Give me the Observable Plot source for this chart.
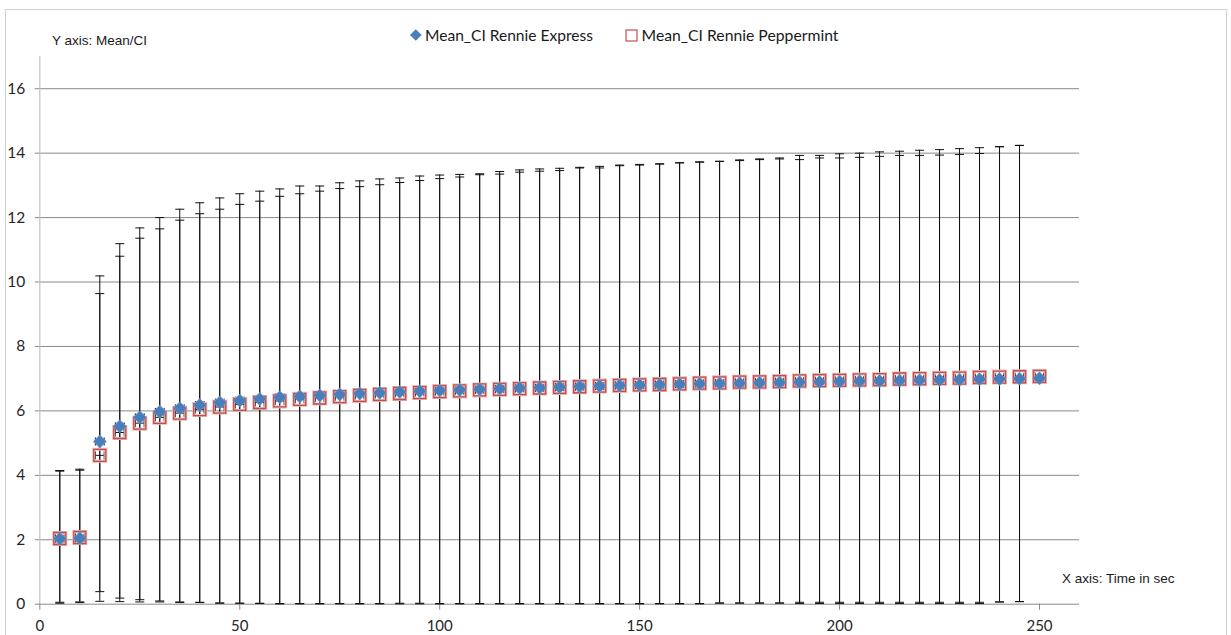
<!DOCTYPE html>
<html>
<head>
<meta charset="utf-8">
<script src="https://cdn.jsdelivr.net/npm/d3@7"></script>
<script src="https://cdn.jsdelivr.net/npm/@observablehq/plot@0.6"></script>
<style>
  html, body { margin: 0; padding: 0; background: #fff; }
  #wrap { position: relative; width: 1231px; height: 635px; overflow: hidden; }
  #wrap > svg { position: absolute; left: 0; top: 0; }
  #frame { position: absolute; left: 5px; top: 9px; width: 1222px; height: 640px; border: 1.5px solid #d0d0d0; box-sizing: border-box; }
</style>
</head>
<body>
<div id="wrap"><div id="frame"></div></div>
<script>
// ---- data ----
const timeSec = [5,10,15,20,25,30,35,40,45,50,55,60,65,70,75,80,85,90,95,100,
  105,110,115,120,125,130,135,140,145,150,155,160,165,170,175,180,185,190,195,200,
  205,210,215,220,225,230,235,240,245,250];

const expressMean = [2.03,2.05,5.05,5.52,5.80,5.97,6.08,6.18,6.26,6.32,
  6.37,6.42,6.45,6.48,6.51,6.54,6.56,6.59,6.61,6.63,
  6.65,6.67,6.69,6.71,6.72,6.74,6.76,6.77,6.79,6.80,
  6.81,6.83,6.84,6.85,6.86,6.87,6.88,6.89,6.90,6.91,
  6.92,6.93,6.94,6.95,6.96,6.97,6.98,6.99,7.00,7.01];

const peppermintMean = [2.04,2.07,4.62,5.33,5.62,5.80,5.93,6.04,6.12,6.20,
  6.26,6.31,6.36,6.40,6.44,6.48,6.51,6.54,6.57,6.60,
  6.62,6.65,6.67,6.69,6.71,6.73,6.75,6.77,6.79,6.81,
  6.82,6.84,6.86,6.87,6.89,6.90,6.91,6.93,6.94,6.95,
  6.96,6.97,6.99,7.00,7.01,7.02,7.04,7.05,7.06,7.07];

const expressUpper = [4.15,4.19,10.19,11.19,11.68,12.00,12.26,12.46,12.61,12.74,
  12.82,12.89,12.98,12.98,13.08,13.14,13.20,13.23,13.29,13.32,
  13.34,13.36,13.43,13.48,13.51,13.53,13.56,13.59,13.63,13.65,
  13.67,13.70,13.73,13.75,13.79,13.82,13.85,13.93,13.93,13.98,
  14.00,14.04,14.06,14.09,14.11,14.14,14.17,14.20,14.24,null];

const peppermintUpper = [4.13,4.16,9.64,10.80,11.36,11.65,11.92,12.12,12.26,12.41,
  12.51,12.66,12.74,12.82,12.90,12.96,13.02,13.09,13.15,13.21,
  13.26,13.33,13.35,13.41,13.44,13.46,13.54,13.54,13.61,13.63,
  13.66,13.70,13.72,13.74,13.77,13.80,13.82,13.80,13.85,13.85,
  13.87,13.90,13.93,13.93,13.94,13.96,13.99,14.20,14.24,null];

const expressLower = [0.06,0.07,0.39,0.19,0.14,0.10,0.07,0.06,0.04,0.03,
  0.03,0.02,0.02,0.02,0.02,0.02,0.02,0.03,0.03,0.02,
  0.02,0.02,0.02,0.02,0.02,0.02,0.02,0.02,0.02,0.02,
  0.02,0.02,0.02,0.04,0.04,0.04,0.04,0.06,0.06,0.06,
  0.06,0.06,0.06,0.06,0.06,0.06,0.06,0.07,0.08,null];

const peppermintLower = [0.03,0.05,0.09,0.08,0.07,0.07,0.05,0.05,0.03,0.03,
  0.02,0.01,0.01,0.01,0.01,0.01,0.01,0.01,0.01,0.01,
  0.01,0.01,0.01,0.01,0.01,0.01,0.01,0.01,0.01,0.01,
  0.01,0.01,0.01,0.03,0.03,0.03,0.03,0.02,0.02,0.02,
  0.02,0.02,0.02,0.02,0.02,0.02,0.02,0.07,0.08,null];

const xErrorHalf = 1.1; // horizontal error bar half-width (sec)

const xTicks = [0,50,100,150,200,250];
const yTicks = [0,2,4,6,8,10,12,14,16];

const seriesNames = ["Mean_CI Rennie Express", "Mean_CI Rennie Peppermint"];
const yAxisTitle = "Y axis: Mean/CI";
const xAxisTitle = "X axis: Time in sec";

// ---- tables ----
const express = timeSec.map((t, i) => ({t, m: expressMean[i], lo: expressLower[i], hi: expressUpper[i]}));
const pepper = timeSec.map((t, i) => ({t, m: peppermintMean[i], lo: peppermintLower[i], hi: peppermintUpper[i]}));
const bars = [...express, ...pepper].filter(d => d.hi != null);
const allPts = [...express, ...pepper];

// ---- custom symbols ----
const hCap = {draw(c) { c.moveTo(-4.5, 0); c.lineTo(4.5, 0); }};
const vCap = {draw(c) { c.moveTo(0, -4); c.lineTo(0, 4); }};
const diamond = {draw(c) { const r = 6.5; c.moveTo(0, -r); c.lineTo(r, 0); c.lineTo(0, r); c.lineTo(-r, 0); c.closePath(); }};
const square = {draw(c) { c.rect(-6, -6, 12, 12); }};

const chart = Plot.plot({
  width: 1231, height: 635,
  marginLeft: 39.3, marginRight: 152, marginTop: 56, marginBottom: 31.3,
  x: {domain: [0, 260]},
  y: {domain: [0, 17]},
  style: {fontFamily: "Lato, 'Open Sans', sans-serif", background: "transparent"},
  marks: [
    Plot.gridY(yTicks.filter(d => d > 0), {stroke: "#8a8a8a", strokeOpacity: 1, strokeWidth: 1}),
    Plot.ruleX([0], {stroke: "#c4c4c4", strokeWidth: 1.2}),
    Plot.ruleY([0], {stroke: "#8a8a8a", strokeWidth: 1}),
    Plot.axisY({ticks: yTicks, tickSize: 4.5, tickPadding: 10, fontSize: 15.5, stroke: "#8a8a8a", fill: "#262626", label: null}),
    Plot.axisX({ticks: xTicks, tickSize: 6, tickPadding: 10, fontSize: 15, stroke: "#8a8a8a", fill: "#262626", label: null}),
    // vertical CI bars
    Plot.ruleX(bars, {x: "t", y1: "lo", y2: "hi", stroke: "#111", strokeWidth: 1}),
    Plot.dot(bars, {x: "t", y: "hi", symbol: hCap, fill: "none", stroke: "#111", strokeWidth: 1}),
    Plot.dot(bars, {x: "t", y: "lo", symbol: hCap, fill: "none", stroke: "#111", strokeWidth: 1}),
    // horizontal error bars
    Plot.ruleY(allPts, {y: "m", x1: d => d.t - xErrorHalf, x2: d => d.t + xErrorHalf, stroke: "#111", strokeWidth: 1}),
    Plot.dot(allPts, {x: d => d.t - xErrorHalf, y: "m", symbol: vCap, fill: "none", stroke: "#111", strokeWidth: 1}),
    Plot.dot(allPts, {x: d => d.t + xErrorHalf, y: "m", symbol: vCap, fill: "none", stroke: "#111", strokeWidth: 1}),
    // Peppermint hollow squares
    Plot.dot(pepper, {x: "t", y: "m", symbol: square, fill: "none", stroke: "#e8b7b6", strokeWidth: 3}),
    Plot.dot(pepper, {x: "t", y: "m", symbol: square, fill: "none", stroke: "#c0504d", strokeWidth: 1.3}),
    // Express diamonds
    Plot.dot(express, {x: "t", y: "m", symbol: diamond, fill: "#4a7ebb", stroke: "#6f97c9", strokeWidth: 0.8})
  ]
});
document.getElementById("wrap").appendChild(chart);

// ---- overlay: legend and axis titles ----
const ov = d3.select("#wrap").append("svg").attr("width", 1231).attr("height", 635);
ov.append("text").attr("x", 52).attr("y", 45).attr("font-family", "'Liberation Sans', Arial, sans-serif")
  .attr("font-size", 13.5).attr("fill", "#1a1a1a").text(yAxisTitle);
ov.append("text").attr("x", 1062).attr("y", 583).attr("font-family", "'Liberation Sans', Arial, sans-serif")
  .attr("font-size", 13.5).attr("fill", "#1a1a1a").text(xAxisTitle);
// legend
ov.append("path").attr("d", d3.symbol(diamond)()).attr("transform", "translate(415.8,35) scale(0.9)").attr("fill", "#4a7ebb");
ov.append("text").attr("x", 425).attr("y", 40.5).attr("font-family", "Lato, sans-serif").attr("font-size", 16)
  .attr("textLength", 168).attr("lengthAdjust", "spacingAndGlyphs").attr("fill", "#1a1a1a").text(seriesNames[0]);
ov.append("rect").attr("x", 626).attr("y", 30).attr("width", 11).attr("height", 11).attr("fill", "none").attr("stroke", "#c0504d").attr("stroke-width", 1.2);
ov.append("text").attr("x", 641.5).attr("y", 40.5).attr("font-family", "Lato, sans-serif").attr("font-size", 16)
  .attr("textLength", 197).attr("lengthAdjust", "spacingAndGlyphs").attr("fill", "#1a1a1a").text(seriesNames[1]);
</script>
</body>
</html>
